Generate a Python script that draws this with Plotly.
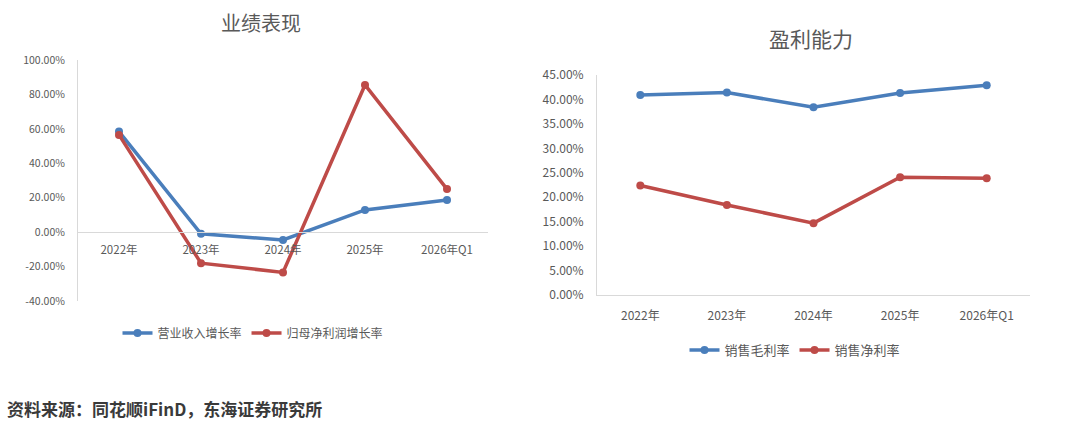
import plotly.graph_objects as go

W, H = 1080, 427

categories = ["2022年", "2023年", "2024年", "2025年", "2026年Q1"]

# Left chart: 业绩表现 (growth rates, %)
revenue_growth = [58.4, -1.0, -4.5, 12.9, 18.7]
net_profit_growth = [56.5, -18.0, -23.4, 85.5, 25.0]
left_ticks = [-40, -20, 0, 20, 40, 60, 80, 100]

# Right chart: 盈利能力 (margins, %)
gross_margin = [40.9, 41.4, 38.4, 41.3, 42.9]
net_margin = [22.4, 18.4, 14.7, 24.1, 23.9]
right_ticks = [0, 5, 10, 15, 20, 25, 30, 35, 40, 45]

BLUE = "#4A7EBB"
RED = "#BE4B48"
FONT = "Noto Sans CJK SC"
GRAY = "#595959"


def px_x(p):
    return p / W


def px_y(p):
    return 1 - p / H


fig = go.Figure()

for name, vals, color, xa, ya, lg in [
    ("营业收入增长率", revenue_growth, BLUE, "x", "y", "legend"),
    ("归母净利润增长率", net_profit_growth, RED, "x", "y", "legend"),
    ("销售毛利率", gross_margin, BLUE, "x2", "y2", "legend2"),
    ("销售净利率", net_margin, RED, "x2", "y2", "legend2"),
]:
    fig.add_trace(go.Scatter(x=categories, y=vals, name=name, mode="lines+markers",
                             line=dict(color=color, width=3.5),
                             marker=dict(color=color, size=8),
                             xaxis=xa, yaxis=ya, legend=lg))

# left domains
ly0, ly1 = px_y(301), px_y(60)
lmin, lmax = -40, 100
zero_pos = ly0 + (0 - lmin) / (lmax - lmin) * (ly1 - ly0)

axis_common = dict(showgrid=False, zeroline=False, showline=True, linecolor="#D9D9D9",
                   linewidth=1, ticks="", automargin=False)

fig.update_layout(
    width=W, height=H,
    margin=dict(l=0, r=0, t=0, b=0, autoexpand=False),
    paper_bgcolor="white", plot_bgcolor="white",
    font=dict(family=FONT, color=GRAY),
    showlegend=True,
    xaxis=dict(domain=[px_x(78), px_x(488)], anchor="free", position=zero_pos,
               type="category", range=[-0.5, 4.5],
               tickfont=dict(size=11.5, color=GRAY), ticklabelstandoff=7, **axis_common),
    yaxis=dict(domain=[ly0, ly1], anchor="x", range=[lmin, lmax], tickvals=left_ticks,
               ticktext=[f"{v:.2f}%" for v in left_ticks],
               tickfont=dict(size=10.5, color=GRAY), ticklabelstandoff=10, **axis_common),
    xaxis2=dict(domain=[px_x(597), px_x(1030)], anchor="y2", type="category",
                range=[-0.5, 4.5],
                tickfont=dict(size=12, color=GRAY), ticklabelstandoff=10, **axis_common),
    yaxis2=dict(domain=[px_y(295), px_y(75)], anchor="x2", range=[0, 45], tickvals=right_ticks,
                ticktext=[f"{v:.2f}%" for v in right_ticks],
                tickfont=dict(size=12, color=GRAY), ticklabelstandoff=10, **axis_common),
    legend=dict(orientation="h", x=px_x(253), y=px_y(333), xanchor="center", yanchor="middle",
                font=dict(size=12, color=GRAY), bgcolor="rgba(0,0,0,0)", itemwidth=30),
    legend2=dict(orientation="h", x=px_x(795), y=px_y(350), xanchor="center", yanchor="middle",
                 font=dict(size=13, color=GRAY), bgcolor="rgba(0,0,0,0)", itemwidth=30),
    annotations=[
        dict(text="业绩表现", x=px_x(261), y=px_y(22), xref="paper", yref="paper",
             xanchor="center", yanchor="middle",
             showarrow=False, font=dict(size=20, color=GRAY, family=FONT)),
        dict(text="盈利能力", x=px_x(811), y=px_y(38), xref="paper", yref="paper",
             xanchor="center", yanchor="middle",
             showarrow=False, font=dict(size=21, color=GRAY, family=FONT)),
        dict(text="<b>资料来源：同花顺iFinD，东海证券研究所</b>", x=px_x(5), y=px_y(408),
             xref="paper", yref="paper", xanchor="left", yanchor="middle", showarrow=False,
             font=dict(size=17, color="#3A3A3A", family=FONT)),
    ],
)

fig.write_html("out.html")
